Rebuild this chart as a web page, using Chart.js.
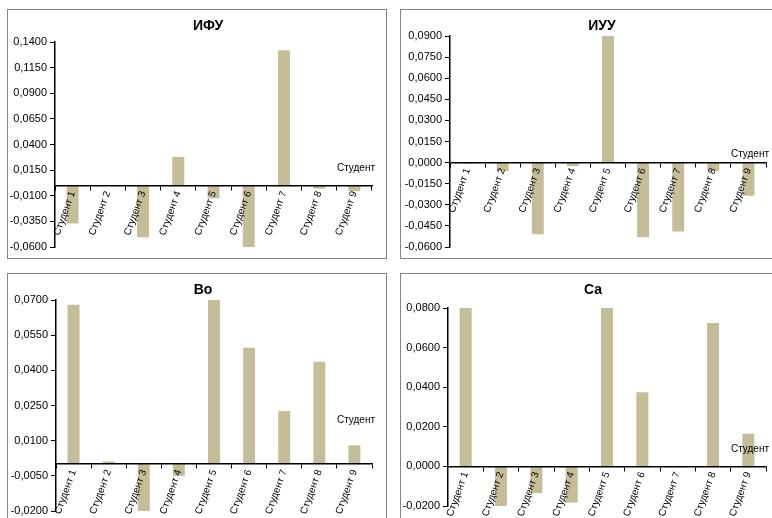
<!DOCTYPE html>
<html lang="ru">
<head>
    <meta charset="UTF-8">
    <title>ИФУ, ИУУ, Bo, Ca</title>
    <style>
        html, body {
            margin: 0;
            padding: 0;
            background: #ffffff;
            width: 772px;
            height: 518px;
            overflow: hidden;
        }

        .box {
            position: absolute;
            width: 378px;
            height: 248px;
            border: 1px solid #858585;
            background: #ffffff;
        }
    </style>
    <script src="https://cdn.jsdelivr.net/npm/chart.js"></script>
</head>
<body>
    <div class="box" style="left:7px; top:9px;"><canvas id="c1" width="378" height="248"></canvas></div>
    <div class="box" style="left:400px; top:9px;"><canvas id="c2" width="378" height="248"></canvas></div>
    <div class="box" style="left:7px; top:273px;"><canvas id="c3" width="378" height="248"></canvas></div>
    <div class="box" style="left:400px; top:273px;"><canvas id="c4" width="378" height="248"></canvas></div>
    <script>
        // Категории
        const students = ['Студент 1', 'Студент 2', 'Студент 3', 'Студент 4', 'Студент 5',
                          'Студент 6', 'Студент 7', 'Студент 8', 'Студент 9'];

        // Значения по графикам
        const ifuValues = [-0.037, 0, -0.0505, 0.028, -0.0125, -0.061, 0.132, -0.003, -0.0055];
        const iuuValues = [-0.0008, -0.006, -0.051, -0.0025, 0.090, -0.053, -0.049, -0.0058, -0.0235];
        const boValues = [0.068, 0.0011, -0.020, -0.005, 0.070, 0.0496, 0.0226, 0.0437, 0.0080];
        const caValues = [0.080, -0.0205, -0.0135, -0.0183, 0.080, 0.0374, 0, 0.0724, 0.0165];

        // Оси Y: [min, max, шаг]
        const ifuTicks = [-0.06, 0.14, 0.025];
        const iuuTicks = [-0.06, 0.09, 0.015];
        const boTicks = [-0.02, 0.07, 0.015];
        const caTicks = [-0.02, 0.08, 0.02];

        const axisTitle = 'Студент';
        const barColor = '#c4bd97';
        const font = 'Liberation Sans, Arial, sans-serif';

        // Заголовок и подпись оси рисуем сами
        const excelText = {
            id: 'excelText',
            afterDraw(chart, args, opts) {
                const ctx = chart.ctx;
                const area = chart.chartArea;
                const yZero = chart.scales.y.getPixelForValue(0);
                ctx.save();
                ctx.fillStyle = '#000';
                ctx.textBaseline = 'middle';
                ctx.font = 'bold 14px ' + font;
                ctx.textAlign = 'center';
                ctx.fillText(opts.title, opts.titleX, 16);
                ctx.font = '10px ' + font;
                ctx.textAlign = 'right';
                ctx.fillText(axisTitle, area.right + 3, yZero - opts.unitOffset);
                ctx.restore();
            }
        };

        function makeChart(id, title, values, ticks, box) {
            const ctx = document.getElementById(id).getContext('2d');
            return new Chart(ctx, {
                type: 'bar',
                data: {
                    labels: students,
                    datasets: [{
                        data: values,
                        backgroundColor: barColor,
                        borderWidth: 0,
                        barPercentage: 0.34,
                        categoryPercentage: 1
                    }]
                },
                options: {
                    responsive: false,
                    animation: false,
                    events: [],
                    layout: {
                        padding: { left: 0, top: box.top, right: 378 - box.right, bottom: 248 - box.bottom }
                    },
                    plugins: {
                        legend: { display: false },
                        tooltip: { enabled: false },
                        excelText: { title: title, titleX: box.titleX, unitOffset: box.unitOffset }
                    },
                    scales: {
                        x: {
                            position: { y: 0 },
                            grid: {
                                offset: true,
                                drawOnChartArea: false,
                                drawTicks: true,
                                tickLength: 4,
                                color: '#000',
                                z: 1
                            },
                            border: { color: '#000', width: 1.5, z: 1 },
                            ticks: {
                                autoSkip: false,
                                minRotation: 70,
                                maxRotation: 70,
                                padding: 0,
                                color: '#000',
                                z: 1,
                                font: { family: font, size: 10 }
                            }
                        },
                        y: {
                            min: ticks[0],
                            max: ticks[1],
                            afterFit(scale) { scale.width = box.left; },
                            grid: {
                                drawOnChartArea: false,
                                drawTicks: true,
                                tickLength: 5,
                                color: '#000'
                            },
                            border: { color: '#000', width: 1.5, z: 1 },
                            ticks: {
                                stepSize: ticks[2],
                                padding: 3,
                                color: '#000',
                                font: { family: font, size: 11 },
                                callback: v => v.toFixed(4).replace('.', ',')
                            }
                        }
                    }
                },
                plugins: [excelText]
            });
        }

        makeChart('c1', 'ИФУ', ifuValues, ifuTicks,
            { left: 47, top: 32, right: 364, bottom: 237, titleX: 200, unitOffset: 17 });
        makeChart('c2', 'ИУУ', iuuValues, iuuTicks,
            { left: 49, top: 26, right: 365, bottom: 237, titleX: 201, unitOffset: 8 });
        makeChart('c3', 'Bo', boValues, boTicks,
            { left: 48, top: 26, right: 364, bottom: 237, titleX: 195, unitOffset: 44 });
        makeChart('c4', 'Ca', caValues, caTicks,
            { left: 47, top: 34, right: 365, bottom: 232, titleX: 192, unitOffset: 17 });
    </script>
</body>
</html>
